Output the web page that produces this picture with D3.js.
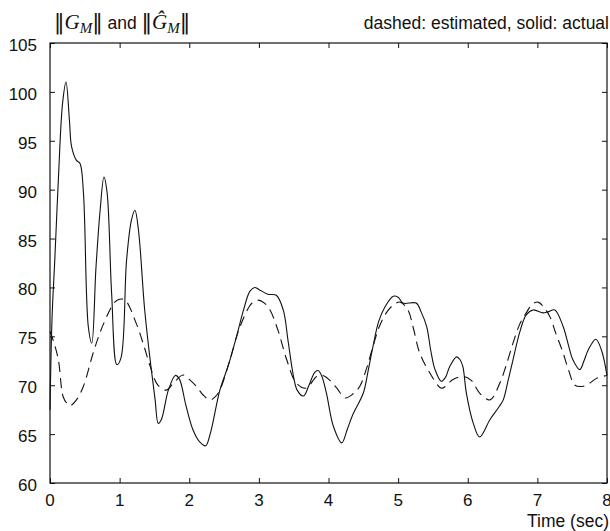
<!DOCTYPE html>
<html>
<head>
<meta charset="utf-8">
<script src="https://cdn.jsdelivr.net/npm/d3@7"></script>
<style>
  body { margin: 0; background: #fff; }
  svg { display: block; }
  .tick-label { font-family: "Liberation Sans", Arial, sans-serif; font-size: 17px; fill: #111; }
  .note { font-family: "Liberation Sans", Arial, sans-serif; font-size: 17.5px; fill: #111; }
  .serif { font-family: "Liberation Serif", "Times New Roman", serif; fill: #111; }
  .bars { font-family: "DejaVu Sans", sans-serif; fill: #111; }
</style>
</head>
<body>
<div id="chart"></div>
<script>
// time (sec) and ||G_M|| actual (solid)
var actualT = [0.00, 0.03, 0.07, 0.12, 0.18, 0.23, 0.28, 0.31, 0.38, 0.43, 0.48, 0.55, 0.60, 0.66, 0.72, 0.775, 0.82, 0.885, 0.96, 1.02,
  1.10, 1.17, 1.22, 1.27, 1.36, 1.45, 1.51, 1.555, 1.60, 1.70, 1.80, 1.86, 1.95, 2.05, 2.15, 2.235, 2.30, 2.44, 2.56, 2.68,
  2.78, 2.87, 2.94, 3.00, 3.13, 3.25, 3.35, 3.42, 3.49, 3.55, 3.64, 3.72, 3.80, 3.85, 3.90, 3.97, 4.07, 4.19, 4.27, 4.35,
  4.50, 4.57, 4.64, 4.72, 4.81, 4.93, 5.00, 5.07, 5.26, 5.33, 5.41, 5.47, 5.53, 5.62, 5.68, 5.74, 5.84, 5.89, 5.93, 5.98,
  6.08, 6.17, 6.32, 6.45, 6.51, 6.58, 6.65, 6.75, 6.84, 6.94, 7.08, 7.15, 7.25, 7.37, 7.45, 7.51, 7.61, 7.67, 7.73, 7.84,
  7.92, 8.00];
var actualV = [67.5, 77, 83, 91, 98.8, 101, 97, 94.4, 93, 92.7, 89.7, 76, 74.3, 82, 87.9, 91.3, 89.7, 79.4, 72.1, 72.8,
  82.8, 86.9, 87.9, 85.9, 77.7, 71.9, 68.5, 66.1, 66.5, 69.5, 71, 70.6, 68, 65.5, 64.2, 63.8, 65, 69.5, 72, 75,
  77.7, 79.6, 80, 79.8, 79.3, 79.2, 77.7, 74.5, 71.2, 69.5, 68.9, 70, 71.3, 71.5, 71, 69.2, 65.8, 64.1, 65.5, 67,
  69.2, 71.5, 74, 76.5, 78, 79.1, 79, 78.4, 78.4, 77.5, 76, 73.5, 71.6, 70.4, 70.8, 71.9, 72.9, 72.6, 71.9, 69.2,
  66.1, 64.7, 66.5, 67.8, 68.5, 70.5, 72.6, 75.5, 77.2, 77.7, 77.4, 77.5, 77.7, 76, 74, 72.6, 71.6, 72.5, 73.6, 74.7,
  73.6, 71];

// time (sec) and ||G_M hat|| estimated (dashed)
var estT = [0.00, 0.05, 0.12, 0.19, 0.25, 0.29, 0.38, 0.48, 0.62, 0.77, 0.93, 1.00, 1.08, 1.24, 1.35, 1.44, 1.55, 1.67, 1.77, 1.91,
  2.00, 2.10, 2.20, 2.30, 2.37, 2.44, 2.58, 2.73, 2.90, 2.99, 3.08, 3.16, 3.28, 3.40, 3.54, 3.68, 3.83, 3.92, 4.02, 4.12,
  4.24, 4.35, 4.45, 4.55, 4.64, 4.73, 4.83, 4.93, 5.03, 5.14, 5.22, 5.31, 5.46, 5.62, 5.70, 5.77, 5.93, 6.05, 6.17, 6.32,
  6.46, 6.55, 6.65, 6.75, 6.84, 6.93, 7.01, 7.08, 7.18, 7.27, 7.37, 7.45, 7.54, 7.66, 7.75, 7.85, 8.00];
var estV = [75.5, 74.5, 72.6, 68.8, 68.1, 67.9, 68.5, 69.9, 73.3, 76.3, 78.5, 78.8, 78.7, 76.3, 74, 71.9, 70, 69.5, 70.2, 71.05,
  70.6, 69.9, 69, 68.5, 68.8, 69.5, 72.5, 76, 78.4, 78.7, 78.4, 77.7, 75.5, 72.6, 70.2, 69.7, 70.9, 71, 70.5, 69.7,
  68.7, 69.1, 69.9, 71.8, 74, 76, 77.4, 78.2, 78.5, 77.7, 75.8, 73.3, 71.2, 69.7, 70, 70.5, 70.9, 70.5, 69.2, 68.5,
  70.2, 72, 74.3, 76.3, 77.4, 78.3, 78.5, 78.1, 77, 75.2, 73.3, 71.5, 70, 69.9, 70.2, 70.7, 71];

var xTicks = [0, 1, 2, 3, 4, 5, 6, 7, 8];
var yTicks = [60, 65, 70, 75, 80, 85, 90, 95, 100, 105];

(function () {
  var width = 610, height = 531;
  var plotLeft = 50, plotRight = 607, plotTop = 43, plotBottom = 483;
  var ink = '#111';

  var svg = d3.select('#chart').append('svg')
    .attr('width', width)
    .attr('height', height);

  var x = d3.scaleLinear().domain([0, 8]).range([plotLeft, plotRight]);
  var y = d3.scaleLinear().domain([60, 105]).range([plotBottom, plotTop]);

  // tick marks, pointing inward on all four sides
  var xAxisB = d3.axisBottom(x).tickValues(xTicks).tickSizeInner(-5).tickSizeOuter(0).tickFormat('');
  var xAxisT = d3.axisTop(x).tickValues(xTicks).tickSizeInner(-5).tickSizeOuter(0).tickFormat('');
  var yAxisL = d3.axisLeft(y).tickValues(yTicks).tickSizeInner(-5).tickSizeOuter(0).tickFormat('');
  var yAxisR = d3.axisRight(y).tickValues(yTicks).tickSizeInner(-5).tickSizeOuter(0).tickFormat('');

  [[xAxisB, 'translate(0,' + plotBottom + ')'], [xAxisT, 'translate(0,' + plotTop + ')'],
   [yAxisL, 'translate(' + plotLeft + ',0)'], [yAxisR, 'translate(' + plotRight + ',0)']].forEach(function (a) {
    var g = svg.append('g').attr('transform', a[1]).call(a[0]);
    g.select('.domain').remove();
    g.selectAll('line').attr('stroke', ink).attr('stroke-width', 1);
  });

  svg.append('rect')
    .attr('x', plotLeft).attr('y', plotTop)
    .attr('width', plotRight - plotLeft).attr('height', plotBottom - plotTop)
    .attr('fill', 'none').attr('stroke', ink).attr('stroke-width', 1.2);

  // tick labels
  svg.append('g').selectAll('text')
    .data(xTicks).enter().append('text')
    .attr('class', 'tick-label')
    .attr('x', d => x(d))
    .attr('y', 506)
    .attr('text-anchor', 'middle')
    .text(d => d);

  svg.append('g').selectAll('text')
    .data(yTicks).enter().append('text')
    .attr('class', 'tick-label')
    .attr('x', 37)
    .attr('y', d => y(d) + 8)
    .attr('text-anchor', 'end')
    .text(d => d);

  // lines
  var line = d3.line()
    .x(d => x(d[0]))
    .y(d => y(d[1]))
    .curve(d3.curveCatmullRom.alpha(0.5));

  var plot = svg.append('g');

  plot.append('path')
    .datum(estT.map((t, i) => [t, estV[i]]))
    .attr('d', line)
    .attr('fill', 'none')
    .attr('stroke', ink)
    .attr('stroke-width', 1.1)
    .attr('stroke-dasharray', '10,6');

  plot.append('path')
    .datum(actualT.map((t, i) => [t, actualV[i]]))
    .attr('d', line)
    .attr('fill', 'none')
    .attr('stroke', ink)
    .attr('stroke-width', 1.1);

  // titles
  var title = svg.append('text').attr('x', 54).attr('y', 29);
  title.append('tspan').attr('class', 'bars').attr('font-size', 21).text('\u2016');
  title.append('tspan').attr('class', 'serif').attr('font-size', 21).attr('font-style', 'italic').text('G');
  title.append('tspan').attr('class', 'serif').attr('font-size', 15).attr('font-style', 'italic').attr('dy', 4).text('M');
  title.append('tspan').attr('class', 'bars').attr('font-size', 21).attr('dy', -4).text('\u2016');
  title.append('tspan').attr('class', 'note').text(' and ');
  title.append('tspan').attr('class', 'bars').attr('font-size', 21).text('\u2016');
  title.append('tspan').attr('class', 'serif').attr('font-size', 21).attr('font-style', 'italic').text('\u011C');
  title.append('tspan').attr('class', 'serif').attr('font-size', 15).attr('font-style', 'italic').attr('dy', 4).text('M');
  title.append('tspan').attr('class', 'bars').attr('font-size', 21).attr('dy', -4).text('\u2016');

  svg.append('text')
    .attr('class', 'note')
    .attr('x', 609).attr('y', 29)
    .attr('text-anchor', 'end')
    .text('dashed: estimated, solid: actual');

  svg.append('text')
    .attr('class', 'note')
    .attr('x', 609).attr('y', 527)
    .attr('text-anchor', 'end')
    .text('Time (sec)');
})();
</script>
</body>
</html>
